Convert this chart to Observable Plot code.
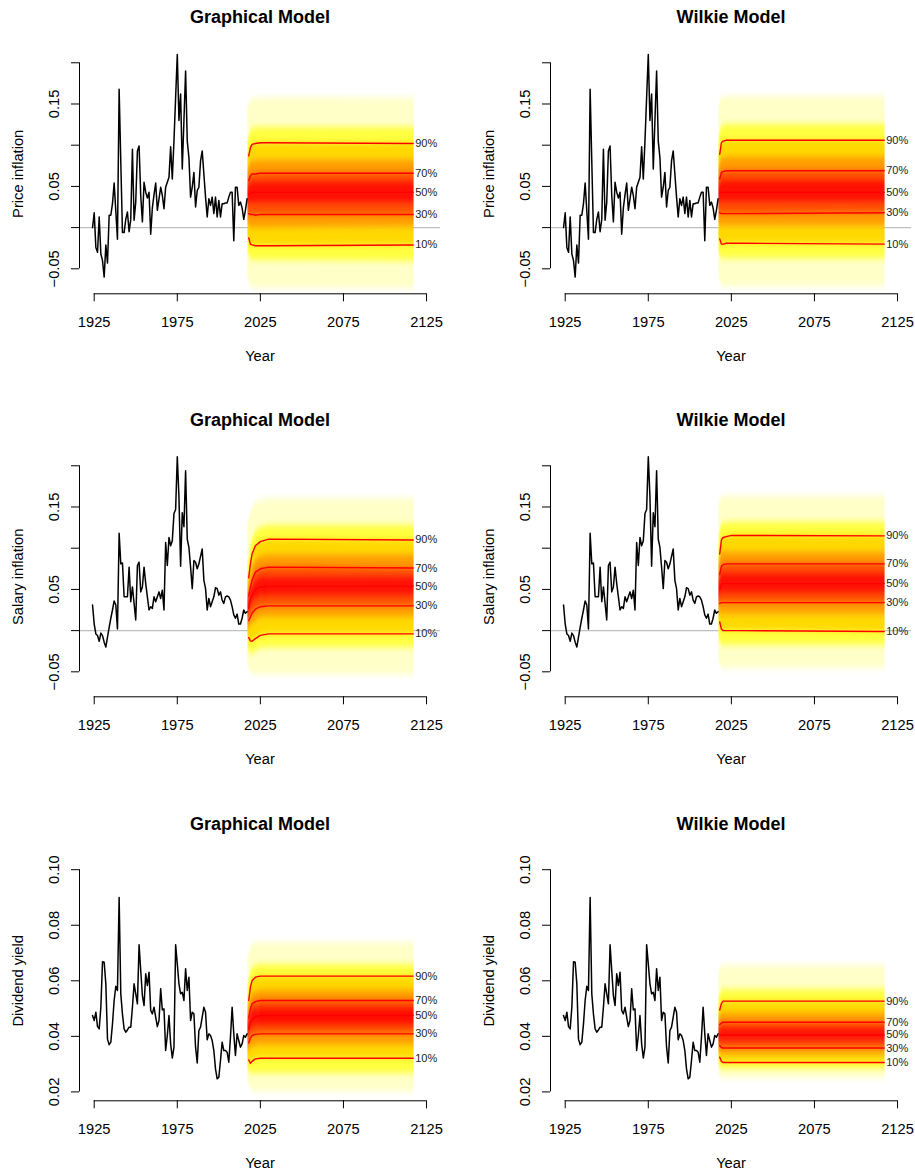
<!DOCTYPE html>
<html><head><meta charset="utf-8">
<script src="https://cdn.jsdelivr.net/npm/d3@7"></script>
<script src="https://cdn.jsdelivr.net/npm/@observablehq/plot@0.6"></script>
<style>
body{margin:0;background:#fff;}
#chart{position:relative;width:915px;height:1173px;overflow:hidden;background:#fff;}
#chart svg{position:absolute;}
</style></head><body><div id="chart"></div>
<script>
// ---------- data ----------
const histStart = 1924;
const priceHist = [0.000,0.018,-0.024,-0.030,0.013,-0.032,-0.040,-0.060,-0.021,-0.043,
 0.015,0.015,0.029,0.054,0.020,-0.014,0.168,0.080,-0.006,-0.006,
 0.010,0.019,-0.005,0.010,0.095,0.009,0.031,0.093,0.099,0.039,
 0.007,0.055,0.043,0.036,0.043,-0.008,0.024,0.040,0.054,0.021,
 0.035,0.049,0.039,0.023,0.049,0.055,0.061,0.098,0.059,0.105,
 0.158,0.210,0.130,0.162,0.071,0.130,0.190,0.105,0.085,0.037,
 0.049,0.067,0.025,0.045,0.049,0.081,0.093,0.065,0.037,0.013,
 0.035,0.027,0.037,0.017,0.037,0.013,0.033,0.013,0.029,0.029,
 0.030,0.030,0.037,0.043,0.043,-0.016,0.049,0.049,0.027,0.031,
 0.024,0.010,0.021,0.035];
const salaryHist = [0.031,0.008,-0.004,-0.006,-0.013,-0.003,-0.006,-0.014,-0.020,-0.008,
 0.004,0.015,0.025,0.036,0.031,0.002,0.118,0.081,0.082,0.041,
 0.041,0.041,0.077,0.035,0.053,0.033,0.013,0.079,0.083,0.047,
 0.053,0.077,0.057,0.041,0.025,0.029,0.027,0.041,0.035,0.041,
 0.047,0.039,0.049,0.025,0.107,0.079,0.113,0.103,0.109,0.142,
 0.147,0.211,0.162,0.078,0.143,0.126,0.194,0.111,0.101,0.077,
 0.051,0.085,0.083,0.075,0.081,0.090,0.099,0.061,0.051,0.025,
 0.039,0.029,0.035,0.041,0.052,0.051,0.043,0.047,0.037,0.033,
 0.041,0.042,0.041,0.037,0.029,0.019,0.015,0.020,0.008,0.008,
 0.015,0.025,0.021,0.023];
const dividendHist = [0.0475,0.0457,0.0487,0.0435,0.0427,0.0505,0.0669,0.0667,0.0589,0.0390,
 0.0370,0.0379,0.0445,0.0529,0.0580,0.0565,0.0900,0.0553,0.0480,0.0427,
 0.0415,0.0423,0.0433,0.0433,0.0505,0.0589,0.0553,0.0517,0.0730,0.0637,
 0.0547,0.0511,0.0625,0.0583,0.0631,0.0493,0.0481,0.0505,0.0469,0.0435,
 0.0457,0.0571,0.0495,0.0499,0.0349,0.0403,0.0475,0.0373,0.0322,0.0361,
 0.0730,0.0661,0.0589,0.0553,0.0559,0.0529,0.0643,0.0565,0.0613,0.0457,
 0.0487,0.0481,0.0361,0.0304,0.0421,0.0433,0.0469,0.0505,0.0487,0.0388,
 0.0409,0.0403,0.0385,0.0349,0.0283,0.0247,0.0253,0.0313,0.0379,0.0349,
 0.0349,0.0343,0.0307,0.0397,0.0505,0.0409,0.0331,0.0409,0.0385,0.0361,
 0.0373,0.0403,0.0397,0.0409];

const fanLevels = [1,5,10,20,30,40,50,60,70,80,90,95,99];
const lineLevels = [10,30,50,70,90];
const fanYears = [2018,2019,2020,2022,2025,2030,2117];

const priceGraphicalFan = [
 [-0.060,-0.030,-0.0125,0.005,0.017,0.030,0.040,0.049,0.057,0.070,0.087,0.105,0.145],
 [-0.070,-0.037,-0.020,0.001,0.016,0.030,0.042,0.053,0.063,0.078,0.097,0.116,0.153],
 [-0.073,-0.039,-0.021,0.000,0.016,0.030,0.043,0.054,0.065,0.081,0.101,0.120,0.156],
 [-0.074,-0.040,-0.022,0.000,0.015,0.030,0.043,0.055,0.065,0.081,0.102,0.121,0.157],
 [-0.074,-0.040,-0.022,0.000,0.016,0.030,0.043,0.055,0.066,0.082,0.103,0.122,0.157],
 [-0.074,-0.040,-0.022,0.000,0.016,0.030,0.043,0.055,0.066,0.082,0.103,0.122,0.158],
 [-0.074,-0.041,-0.021,0.001,0.016,0.030,0.043,0.055,0.066,0.082,0.102,0.122,0.157]];
const priceWilkieFan = [
 [-0.058,-0.030,-0.0137,0.006,0.018,0.031,0.041,0.050,0.059,0.072,0.089,0.108,0.146],
 [-0.069,-0.037,-0.020,0.002,0.017,0.031,0.043,0.055,0.067,0.083,0.103,0.122,0.157],
 [-0.071,-0.038,-0.020,0.002,0.017,0.031,0.043,0.056,0.068,0.084,0.105,0.124,0.158],
 [-0.072,-0.038,-0.019,0.002,0.017,0.031,0.043,0.056,0.069,0.085,0.106,0.125,0.159],
 [-0.072,-0.038,-0.019,0.002,0.017,0.031,0.043,0.056,0.069,0.085,0.106,0.125,0.159],
 [-0.072,-0.038,-0.019,0.002,0.017,0.031,0.043,0.056,0.069,0.085,0.106,0.125,0.159],
 [-0.072,-0.038,-0.020,0.002,0.018,0.031,0.043,0.056,0.069,0.085,0.106,0.125,0.159]];
const salaryGraphicalFan = [
 [-0.042,-0.022,-0.0085,0.003,0.012,0.020,0.027,0.034,0.042,0.051,0.064,0.080,0.130],
 [-0.050,-0.027,-0.0125,0.005,0.0166,0.028,0.038,0.046,0.053,0.066,0.081,0.098,0.140],
 [-0.052,-0.028,-0.013,0.008,0.021,0.033,0.043,0.052,0.061,0.075,0.093,0.110,0.148],
 [-0.054,-0.026,-0.0097,0.012,0.026,0.039,0.050,0.060,0.071,0.085,0.103,0.120,0.155],
 [-0.054,-0.022,-0.0057,0.016,0.029,0.042,0.053,0.064,0.075,0.090,0.108,0.125,0.158],
 [-0.054,-0.021,-0.004,0.017,0.030,0.043,0.0537,0.065,0.077,0.092,0.111,0.128,0.160],
 [-0.054,-0.021,-0.004,0.017,0.030,0.043,0.054,0.065,0.076,0.092,0.110,0.128,0.160]];
const salaryWilkieFan = [
 [-0.035,-0.010,0.0105,0.022,0.033,0.042,0.050,0.058,0.068,0.079,0.093,0.112,0.152],
 [-0.044,-0.016,0.002,0.021,0.034,0.045,0.056,0.067,0.078,0.093,0.110,0.128,0.160],
 [-0.046,-0.018,0.000,0.020,0.034,0.046,0.057,0.069,0.080,0.095,0.113,0.131,0.163],
 [-0.046,-0.018,0.000,0.020,0.034,0.046,0.057,0.069,0.081,0.095,0.114,0.131,0.163],
 [-0.046,-0.018,0.000,0.020,0.034,0.046,0.057,0.069,0.081,0.095,0.1155,0.132,0.163],
 [-0.046,-0.018,0.000,0.020,0.034,0.046,0.057,0.069,0.081,0.095,0.1155,0.132,0.163],
 [-0.046,-0.018,-0.001,0.020,0.034,0.046,0.057,0.069,0.081,0.095,0.115,0.132,0.163]];
const dividendGraphicalFan = [
 [0.0235,0.0280,0.0315,0.0350,0.0376,0.0405,0.0425,0.0445,0.0466,0.0495,0.0529,0.0580,0.0680],
 [0.0215,0.0270,0.0303,0.0355,0.0394,0.0425,0.0450,0.0475,0.0499,0.0532,0.0577,0.0625,0.0715],
 [0.0205,0.0265,0.0310,0.0362,0.0403,0.0435,0.0462,0.0490,0.0517,0.0552,0.0600,0.0645,0.0730],
 [0.0200,0.0265,0.0319,0.0367,0.0407,0.0440,0.0470,0.0497,0.0525,0.0560,0.0613,0.0655,0.0735],
 [0.0200,0.0265,0.0321,0.0370,0.0409,0.0443,0.0475,0.0500,0.0529,0.0565,0.0617,0.0660,0.0738],
 [0.0200,0.0265,0.0321,0.0370,0.0409,0.0443,0.0475,0.0500,0.0529,0.0565,0.0617,0.0660,0.0738],
 [0.0200,0.0265,0.0321,0.0370,0.0409,0.0443,0.0475,0.0500,0.0529,0.0565,0.0617,0.0660,0.0738]];
const dividendWilkieFan = [
 [0.0260,0.0295,0.0325,0.0348,0.0367,0.0385,0.0403,0.0422,0.0442,0.0465,0.0495,0.0540,0.0630],
 [0.0250,0.0285,0.0310,0.0338,0.0360,0.0383,0.0405,0.0427,0.0448,0.0478,0.0518,0.0562,0.0650],
 [0.0248,0.0282,0.0306,0.0336,0.0358,0.0382,0.0405,0.0428,0.0451,0.0482,0.0527,0.0570,0.0655],
 [0.0248,0.0282,0.0306,0.0336,0.0358,0.0382,0.0405,0.0428,0.0451,0.0482,0.0527,0.0570,0.0655],
 [0.0248,0.0282,0.0306,0.0336,0.0358,0.0382,0.0405,0.0428,0.0451,0.0482,0.0527,0.0570,0.0655],
 [0.0248,0.0282,0.0306,0.0336,0.0358,0.0382,0.0405,0.0428,0.0451,0.0482,0.0527,0.0570,0.0655],
 [0.0248,0.0282,0.0306,0.0336,0.0358,0.0382,0.0405,0.0428,0.0451,0.0482,0.0527,0.0570,0.0655]];

const bandColors = ["#FFFFC8","#FFFF40","#FFD800","#FF9C00","#FF4C00","#FF0C00",
                    "#FF0C00","#FF4C00","#FF9C00","#FFD800","#FFFF40","#FFFFC8"];

const xTicks = [1925,1975,2025,2075,2125];
const inflTicks = [-0.05,0,0.05,0.10,0.15,0.20];
const inflTickLabels = ["\u22120.05","","0.05","","0.15",""];
const divTicks = [0.02,0.04,0.06,0.08,0.10];
const divTickLabels = ["0.02","0.04","0.06","0.08","0.10"];
const titles = ["Graphical Model","Wilkie Model"];
const yLabels = ["Price inflation","Salary inflation","Dividend yield"];

// ---------- layout ----------
const xDomain = [1916.15, 2133.4];
const inflDomain = [-0.0803, 0.2109];
const divDomain = [0.0168, 0.1032];
const rowTop = [0, 403.4, 806.8];
const colLeft = [0, 470.5];
const FONT = "'Liberation Sans', Arial, Helvetica, sans-serif";

const panels = [
 {row:0,col:0,hist:priceHist,fan:priceGraphicalFan,ticks:inflTicks,labels:inflTickLabels,yd:inflDomain,zero:true},
 {row:0,col:1,hist:priceHist,fan:priceWilkieFan,ticks:inflTicks,labels:inflTickLabels,yd:inflDomain,zero:true},
 {row:1,col:0,hist:salaryHist,fan:salaryGraphicalFan,ticks:inflTicks,labels:inflTickLabels,yd:inflDomain,zero:true},
 {row:1,col:1,hist:salaryHist,fan:salaryWilkieFan,ticks:inflTicks,labels:inflTickLabels,yd:inflDomain,zero:true},
 {row:2,col:0,hist:dividendHist,fan:dividendGraphicalFan,ticks:divTicks,labels:divTickLabels,yd:divDomain,zero:false},
 {row:2,col:1,hist:dividendHist,fan:dividendWilkieFan,ticks:divTicks,labels:divTickLabels,yd:divDomain,zero:false}
];

const chart = document.getElementById("chart");
const NS = "http://www.w3.org/2000/svg";

panels.forEach((p, idx) => {
  const W = p.col === 0 ? 470.5 : 444.5;
  const H = 403;
  const hist = p.hist.map((v, i) => ({year: histStart + i, value: v}));
  const nY = fanYears.length;
  const bands = [];
  p.fan.forEach((row, r) => {
    const yr = fanYears[r];
    const xa = r === 0 ? yr - 0.5 : (r === nY - 1 ? yr + 0.5 : yr);
    for (let b = 0; b < fanLevels.length - 1; b++) {
      bands.push({year: xa, band: b, lo: row[b], hi: row[b + 1], color: bandColors[b]});
    }
  });
  const lines = [];
  p.fan.forEach((row, r) => lineLevels.forEach(l =>
    lines.push({year: fanYears[r], level: l, value: row[fanLevels.indexOf(l)]})));
  const last = p.fan[nY - 1];
  const labs = lineLevels.map(l => ({year: fanYears[nY - 1], value: last[fanLevels.indexOf(l)], label: l + "%"}));
  const labelMap = new Map(p.ticks.map((t, i) => [t, p.labels[i]]));

  const svg = Plot.plot({
    width: W, height: H,
    marginLeft: 79, marginRight: W - 440, marginTop: 53.3, marginBottom: H - 293.3,
    x: {domain: xDomain},
    y: {domain: p.yd},
    color: {type: "identity"},
    style: {fontFamily: FONT, fontSize: "14.7px", color: "black", background: "transparent", overflow: "visible"},
    marks: [
      p.zero ? Plot.ruleY([0], {stroke: "#bebebe", strokeWidth: 1.3}) : null,
      Plot.areaY(bands, {x: "year", y1: "lo", y2: "hi", z: "band", fill: "color"}),
      Plot.line(hist, {x: "year", y: "value", stroke: "black", strokeWidth: 1.5}),
      Plot.line(lines, {x: "year", y: "value", z: "level", stroke: "#ff0000", strokeWidth: 1.4}),
      Plot.text(labs, {x: "year", y: "value", text: "label", dx: 2, textAnchor: "start", fontSize: 11, fill: "#222"}),
      Plot.ruleX([xDomain[0]], {y1: p.ticks[0], y2: p.ticks[p.ticks.length - 1], stroke: "black", strokeWidth: 1}),
      Plot.ruleY([p.yd[0]], {x1: xTicks[0], x2: xTicks[xTicks.length - 1], stroke: "black", strokeWidth: 1}),
      Plot.axisX({ticks: xTicks, anchor: "bottom", tickSize: 8, tickPadding: 14.7, tickFormat: d => String(d), fontSize: 14.7, label: null}),
      Plot.axisY({ticks: p.ticks, anchor: "left", tickSize: 8, tickPadding: 12.5, tickRotate: -90, tickFormat: d => labelMap.get(d), fontSize: 14.7, label: null}),
      Plot.text([titles[p.col]], {frameAnchor: "top", dy: -36.5, lineAnchor: "middle", textAnchor: "middle", fontSize: 18, fontWeight: "bold"}),
      Plot.text(["Year"], {frameAnchor: "bottom", dy: 62.7, lineAnchor: "middle", textAnchor: "middle", fontSize: 14.7}),
      Plot.text([yLabels[p.row]], {frameAnchor: "left", dx: -61.7, rotate: -90, lineAnchor: "middle", textAnchor: "middle", fontSize: 14.7})
    ]
  });

  // vertical smoothing of the fan bands
  const defs = document.createElementNS(NS, "defs");
  const filter = document.createElementNS(NS, "filter");
  filter.setAttribute("id", "vblur" + idx);
  filter.setAttribute("x", "-0.02"); filter.setAttribute("y", "-0.3");
  filter.setAttribute("width", "1.04"); filter.setAttribute("height", "1.6");
  filter.setAttribute("color-interpolation-filters", "sRGB");
  const blur = document.createElementNS(NS, "feGaussianBlur");
  blur.setAttribute("stdDeviation", "0 3");
  filter.appendChild(blur); defs.appendChild(filter); svg.appendChild(defs);
  const areaG = svg.querySelector('g[aria-label="area"]');
  if (areaG) areaG.setAttribute("filter", "url(#vblur" + idx + ")");

  svg.style.left = colLeft[p.col] + "px";
  svg.style.top = rowTop[p.row] + "px";
  chart.appendChild(svg);
});
</script></body></html>
